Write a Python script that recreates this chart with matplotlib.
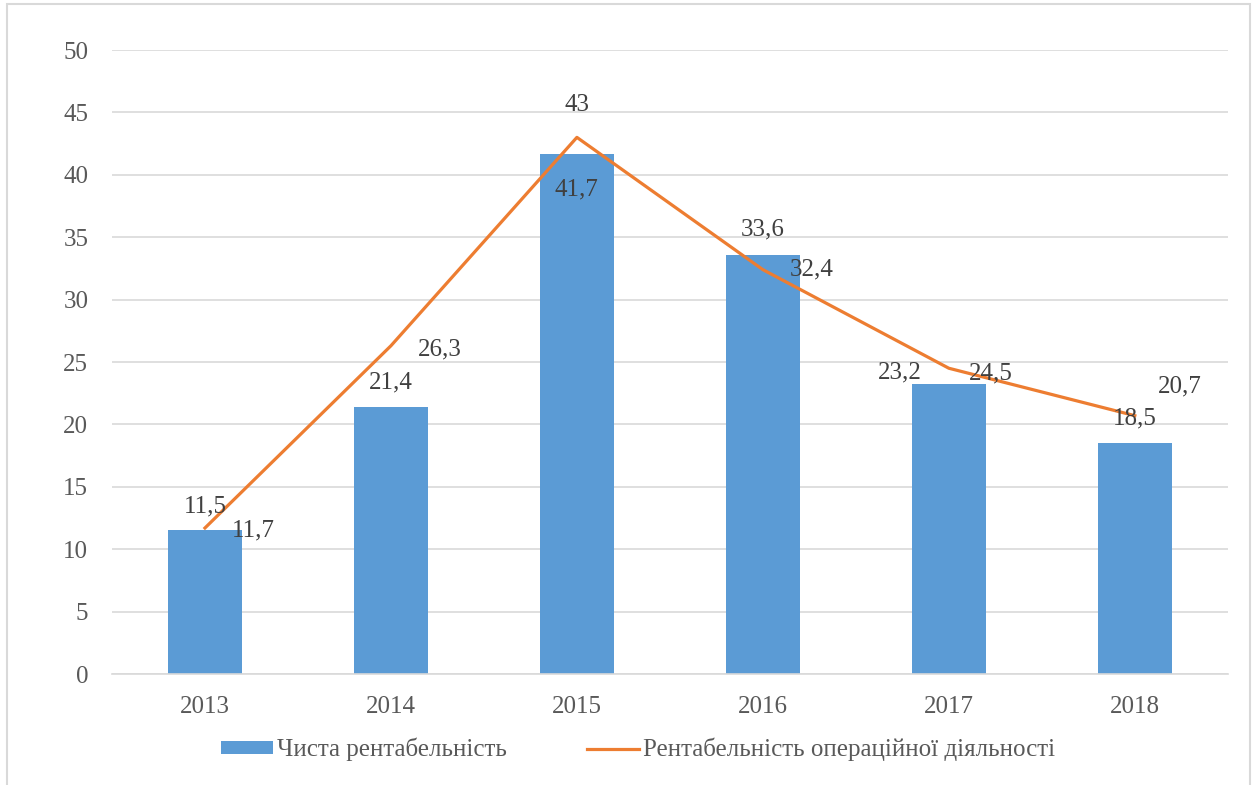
import matplotlib.pyplot as plt
from matplotlib.patches import Rectangle

years = ["2013", "2014", "2015", "2016", "2017", "2018"]
net_profitability = [11.5, 21.4, 41.7, 33.6, 23.2, 18.5]
operating_profitability = [11.7, 26.3, 43, 32.4, 24.5, 20.7]

bar_name = "Чиста рентабельність"
line_name = "Рентабельність операційної діяльності"

# label offsets in pixels, picked to match the original layout
bar_offsets = [(0, 24), (0, 24), (0, -36), (0, 25), (-49, 12), (0, 25)]
line_offsets = [(48, -2), (49, -4), (0, 32), (49, 0), (42, -5), (45, 29)]

plt.rcParams["font.family"] = ["Liberation Serif", "DejaVu Serif"]

fig = plt.figure(figsize=(12.58, 7.85), dpi=100)
ax = fig.add_axes([0.089, 0.1414, 0.887, 0.7949])

x = list(range(len(years)))
bars = ax.bar(x, net_profitability, width=0.4, color="#5B9BD5", label=bar_name, zorder=2)
line, = ax.plot(x, operating_profitability, color="#ED7D31", lw=2.3, label=line_name, zorder=3)

def fmt(v):
    return f"{v:g}".replace(".", ",")

for xi, v, off in zip(x, net_profitability, bar_offsets):
    ax.annotate(fmt(v), (xi, v), xytext=off, textcoords="offset pixels",
                ha="center", va="center", fontsize=18, color="#404040", zorder=4)
for xi, v, off in zip(x, operating_profitability, line_offsets):
    ax.annotate(fmt(v), (xi, v), xytext=off, textcoords="offset pixels",
                ha="center", va="center", fontsize=18, color="#404040", zorder=4)

ax.set_xlim(-0.5, 5.5)
ax.set_ylim(0, 50)
ax.set_yticks(range(0, 51, 5))
ax.set_xticks(x)
ax.set_xticklabels(years)
ax.tick_params(axis="both", length=0, labelsize=18, labelcolor="#595959")
ax.tick_params(axis="y", pad=17)
ax.tick_params(axis="x", pad=16)
ax.grid(axis="y", color="#D9D9D9", lw=1.2, zorder=0)
ax.set_axisbelow(True)
for s in ["left", "right", "top"]:
    ax.spines[s].set_visible(False)
ax.spines["bottom"].set_color("#D9D9D9")
ax.spines["bottom"].set_linewidth(1.2)

fig.legend([bars, line], [bar_name, line_name], loc="center",
           bbox_to_anchor=(0.507, 0.045), ncol=2, frameon=False,
           fontsize=18, labelcolor="#595959", handlelength=2.1, handleheight=0.4,
           handletextpad=0.15, columnspacing=3.2)

# chart frame
fig.patches.append(Rectangle((7 / 1258, -0.01), 1243 / 1258, 1 - 4 / 785 + 0.01,
                             transform=fig.transFigure, fill=False,
                             edgecolor="#D9D9D9", lw=1.5))

fig.savefig("out.png", dpi=100)
